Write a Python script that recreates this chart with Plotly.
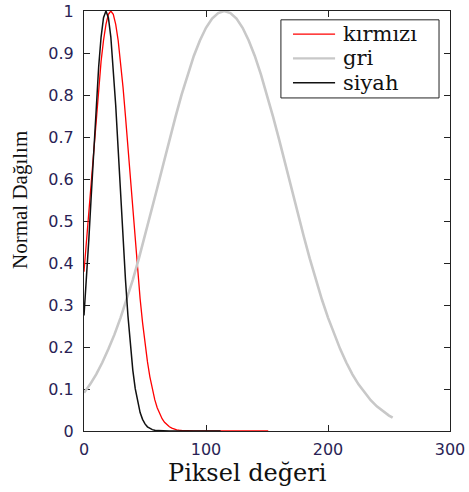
import plotly.graph_objects as go

# ---- data ----
red_x = [0, 2, 4, 6, 8, 10, 12, 14, 16, 18, 20, 22, 24, 26, 28, 30, 32, 34, 36, 38, 40,
         42, 44, 46, 48, 50, 52, 54, 56, 58, 60, 62, 64, 66, 68, 70, 72, 74, 76, 78, 80,
         90, 100, 110, 120, 130, 140, 151]
red_y = [0.379, 0.449, 0.523, 0.599, 0.675, 0.749, 0.818, 0.880, 0.930, 0.968, 0.992, 1.0,
         0.992, 0.968, 0.930, 0.880, 0.818, 0.749, 0.675, 0.599, 0.523,
         0.449, 0.379, 0.315, 0.258, 0.208, 0.165, 0.129, 0.0988, 0.0746, 0.0555, 0.0406,
         0.0292, 0.0207, 0.0144, 0.0099, 0.0067, 0.0044, 0.0029, 0.0019, 0.0012,
         0.0, 0.0, 0.0, 0.0, 0.0, 0.0, 0.0]

black_x = [0, 2, 4, 6, 8, 10, 12, 14, 16, 18, 20, 22, 24, 26, 28, 30, 32, 34, 36, 38, 40,
           42, 44, 46, 48, 50, 52, 54, 56, 58, 60, 70, 80, 90, 100, 112]
black_y = [0.275, 0.360, 0.458, 0.563, 0.671, 0.775, 0.866, 0.938, 0.984, 1.0, 0.984,
           0.938, 0.866, 0.775, 0.671, 0.563, 0.458, 0.360, 0.275, 0.203, 0.145,
           0.1007, 0.0676, 0.0439, 0.0277, 0.0169, 0.0100, 0.0057, 0.0032, 0.0017, 0.0009,
           0.0, 0.0, 0.0, 0.0, 0.0]

gray_x = [0, 5, 10, 15, 20, 25, 30, 35, 40, 45, 50, 55, 60, 65, 70, 75, 80, 85, 90, 95,
          100, 105, 110, 115, 120, 125, 130, 135, 140, 145, 150, 155, 160, 165, 170, 175,
          180, 185, 190, 195, 200, 205, 210, 215, 220, 225, 230, 235, 240, 245, 250, 253]
gray_y = [0.0908, 0.111, 0.135, 0.163, 0.195, 0.230, 0.270, 0.313, 0.360, 0.411, 0.465,
          0.520, 0.578, 0.635, 0.693, 0.748, 0.801, 0.849, 0.893, 0.930, 0.960, 0.982,
          0.995, 1.0, 0.995, 0.982, 0.960, 0.930, 0.893, 0.849, 0.801, 0.748, 0.693,
          0.635, 0.578, 0.520, 0.465, 0.411, 0.360, 0.313, 0.270, 0.230, 0.195, 0.163,
          0.135, 0.111, 0.0908, 0.0734, 0.0588, 0.0466, 0.0367, 0.0316]

x_ticks = [0, 100, 200, 300]
y_ticks = [0, 0.1, 0.2, 0.3, 0.4, 0.5, 0.6, 0.7, 0.8, 0.9, 1]
y_ticktext = ["0", "0.1", "0.2", "0.3", "0.4", "0.5", "0.6", "0.7", "0.8", "0.9", "1"]

series_names = ["kırmızı", "gri", "siyah"]
series_colors = ["#ff0000", "#c8c8c8", "#111111"]
series_widths = [1.3, 2.6, 1.5]
x_title = "Piksel değeri"
y_title = "Normal Dağılım"

fig = go.Figure()
for (xs, ys), name, col, w in zip([(red_x, red_y), (gray_x, gray_y), (black_x, black_y)],
                                   series_names, series_colors, series_widths):
    fig.add_trace(go.Scatter(x=xs, y=ys, mode="lines", name=name,
                             line=dict(color=col, width=w), showlegend=False))

axis_common = dict(showgrid=False, zeroline=False, showline=True, linecolor="#222",
                   linewidth=1, mirror="ticks", ticks="inside", ticklen=6,
                   tickcolor="#222", tickwidth=1, layer="below traces", automargin=False,
                   tickfont=dict(family="DejaVu Sans", size=16, color="#2a1f55"))

# legend box drawn in paper coordinates (top-right, like the reference)
leg_x0, leg_x1, leg_y0, leg_y1 = 0.538, 0.970, 0.793, 0.979
leg_line_x0, leg_line_x1, leg_text_x = 0.571, 0.686, 0.702
leg_rows = [0.945, 0.887, 0.829]

shapes = [dict(type="rect", xref="paper", yref="paper", x0=leg_x0, x1=leg_x1,
               y0=leg_y0, y1=leg_y1, line=dict(color="#222", width=1),
               fillcolor="white", layer="above")]
annotations = []
for name, col, w, ry in zip(series_names, series_colors, series_widths, leg_rows):
    shapes.append(dict(type="line", xref="paper", yref="paper", x0=leg_line_x0,
                       x1=leg_line_x1, y0=ry, y1=ry,
                       line=dict(color=col, width=min(w, 2.2)), layer="above"))
    annotations.append(dict(text=name, xref="paper", yref="paper", x=leg_text_x, y=ry,
                            xanchor="left", yanchor="middle", showarrow=False,
                            font=dict(family="DejaVu Serif", size=21, color="#111")))

annotations += [
    dict(text=x_title, xref="paper", yref="paper", x=0.447, y=-0.1,
         xanchor="center", yanchor="middle", showarrow=False,
         font=dict(family="DejaVu Serif", size=24, color="#111")),
    dict(text=y_title, xref="paper", yref="paper", x=-0.175, y=0.55,
         xanchor="center", yanchor="middle", showarrow=False, textangle=-90,
         font=dict(family="Liberation Serif", size=21, color="#111")),
]

fig.update_layout(
    width=469, height=492,
    margin=dict(l=84, r=19, t=11, b=61),
    paper_bgcolor="white", plot_bgcolor="white",
    showlegend=False,
    xaxis=dict(range=[0, 300], tickvals=x_ticks, ticktext=[str(v) for v in x_ticks],
               ticklabelstandoff=4, **axis_common),
    yaxis=dict(range=[0, 1], tickvals=y_ticks, ticktext=y_ticktext,
               ticklabelstandoff=6, **axis_common),
    shapes=shapes,
    annotations=annotations,
)

fig.write_html("out.html")
